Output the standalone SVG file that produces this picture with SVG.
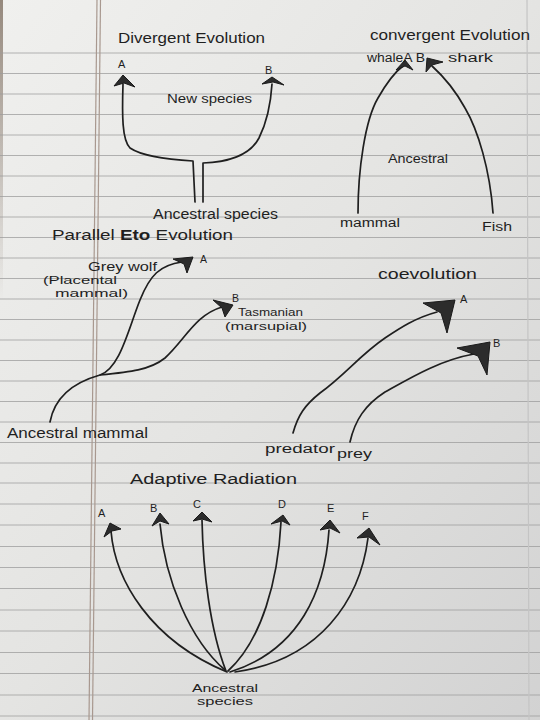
<svg xmlns="http://www.w3.org/2000/svg" width="540" height="720" viewBox="0 0 540 720">
<defs>
<linearGradient id="paper" x1="0" y1="0" x2="1" y2="1">
<stop offset="0" stop-color="#f0f0ee"/>
<stop offset="0.5" stop-color="#e4e4e2"/>
<stop offset="1" stop-color="#d2d2d2"/>
</linearGradient>
<linearGradient id="edge" x1="0" y1="0" x2="0" y2="1">
<stop offset="0" stop-color="#6e5c4c" stop-opacity=".7"/>
<stop offset="1" stop-color="#6e5c4c" stop-opacity="0"/>
</linearGradient>
<style>
.rule{stroke:#9c9c9c;stroke-width:1;opacity:.75}
.margin{stroke:#a8988f;stroke-width:1.2}
.ink{fill:none;stroke:#1f1f1f;stroke-width:1.7;stroke-linecap:round;stroke-linejoin:round}
.head{fill:#2c2c2c;stroke:#1a1a1a;stroke-width:1;stroke-linejoin:round}
text{font-family:"Liberation Sans","DejaVu Sans",sans-serif;fill:#1f1f1f}
.t{font-size:14px}
.s{font-size:12px}
.n{font-size:10.5px}
.l{font-size:11px}
</style>
</defs>
<rect width="540" height="720" fill="url(#paper)"/>
<rect x="0" y="0" width="3" height="300" fill="url(#edge)"/>
<g id="rules">
<line class="rule" x1="0" y1="53" x2="540" y2="53"/>
<line class="rule" x1="0" y1="73.5" x2="540" y2="73.5"/>
<line class="rule" x1="0" y1="94" x2="540" y2="94"/>
<line class="rule" x1="0" y1="114.5" x2="540" y2="114.5"/>
<line class="rule" x1="0" y1="135" x2="540" y2="135"/>
<line class="rule" x1="0" y1="155.5" x2="540" y2="155.5"/>
<line class="rule" x1="0" y1="176" x2="540" y2="176"/>
<line class="rule" x1="0" y1="196.5" x2="540" y2="196.5"/>
<line class="rule" x1="0" y1="217" x2="540" y2="217"/>
<line class="rule" x1="0" y1="237.5" x2="540" y2="237.5"/>
<line class="rule" x1="0" y1="258" x2="540" y2="258"/>
<line class="rule" x1="0" y1="278.5" x2="540" y2="278.5"/>
<line class="rule" x1="0" y1="299" x2="540" y2="299"/>
<line class="rule" x1="0" y1="319.5" x2="540" y2="319.5"/>
<line class="rule" x1="0" y1="340" x2="540" y2="340"/>
<line class="rule" x1="0" y1="360.5" x2="540" y2="360.5"/>
<line class="rule" x1="0" y1="381" x2="540" y2="381"/>
<line class="rule" x1="0" y1="401.5" x2="540" y2="401.5"/>
<line class="rule" x1="0" y1="422" x2="540" y2="422"/>
<line class="rule" x1="0" y1="442.5" x2="540" y2="442.5"/>
<line class="rule" x1="0" y1="463" x2="540" y2="463"/>
<line class="rule" x1="0" y1="483" x2="540" y2="483"/>
<line class="rule" x1="0" y1="504" x2="540" y2="504"/>
<line class="rule" x1="0" y1="525" x2="540" y2="525"/>
<line class="rule" x1="0" y1="546.5" x2="540" y2="546.5"/>
<line class="rule" x1="0" y1="567.5" x2="540" y2="567.5"/>
<line class="rule" x1="0" y1="588.5" x2="540" y2="588.5"/>
<line class="rule" x1="0" y1="610" x2="540" y2="610"/>
<line class="rule" x1="0" y1="631" x2="540" y2="631"/>
<line class="rule" x1="0" y1="652.5" x2="540" y2="652.5"/>
<line class="rule" x1="0" y1="673.5" x2="540" y2="673.5"/>
<line class="rule" x1="0" y1="695" x2="540" y2="695"/>
<line class="rule" x1="0" y1="716" x2="540" y2="716"/>
<line class="margin" x1="97" y1="0" x2="89" y2="720"/>
<line class="margin" x1="100.5" y1="0" x2="92.5" y2="720"/>
<line x1="527" y1="0" x2="529" y2="720" stroke="#c4c4c4" stroke-width="1.2"/>
</g>

<g id="connectors">
<!-- divergent -->
<path class="ink" d="M123,84 C122,115 122,140 130,148 C145,158 175,160 193,161 L195,202"/>
<path class="ink" d="M203,202 L203,163 C230,162 250,155 259,138 C268,120 271,100 272,84"/>
<!-- convergent -->
<path class="ink" d="M358,213 C358,170 365,120 378,98 C386,84 395,72 403,66"/>
<path class="ink" d="M493,213 C490,170 478,130 465,108 C455,90 442,75 432,66"/>
<!-- parallel -->
<path class="ink" d="M50,422 C55,395 75,382 100,375 C120,368 128,330 140,300 C150,275 160,265 182,262"/>
<path class="ink" d="M100,375 C130,372 150,370 165,358 C185,340 195,315 222,307"/>
<!-- coevolution -->
<path class="ink" d="M293,433 C298,415 305,405 320,393 C345,375 360,355 385,338 C400,328 415,318 437,312"/>
<path class="ink" d="M350,442 C355,420 365,405 385,392 C410,378 440,360 474,354"/>
<!-- adaptive radiation -->
<path class="ink" d="M111,531 C115,580 150,640 227,672"/>
<path class="ink" d="M160,524 C165,580 190,640 225,670"/>
<path class="ink" d="M202,520 C203,570 210,630 226,671"/>
<path class="ink" d="M281,522 C278,580 262,640 228,671"/>
<path class="ink" d="M329,530 C325,590 300,650 230,672"/>
<path class="ink" d="M368,538 C360,600 320,660 235,672"/>
</g>

<g id="arrowheads">
<polygon class="head" points="123,75 135,87 124,83 114,86"/>
<polygon class="head" points="272,77 284,85 273,82 262,84"/>
<polygon class="head" points="405,60 413,70 405,66 396,70"/>
<polygon class="head" points="427,58 443,62 432,65 426,72"/>
<polygon class="head" points="193,257 187,273 184,264 173,259"/>
<polygon class="head" points="233,305 225,317 222,308 213,300"/>
<polygon class="head" points="455,300 447,333 441,313 423,303"/>
<polygon class="head" points="490,342 487,375 478,356 457,348"/>
<polygon class="head" points="110,523 121,529 112,531 104,537"/>
<polygon class="head" points="160,513 169,524 160,521 152,526"/>
<polygon class="head" points="202,512 212,522 202,519 193,521"/>
<polygon class="head" points="283,515 290,525 282,521 271,524"/>
<polygon class="head" points="330,520 340,533 330,528 320,530"/>
<polygon class="head" points="369,528 380,545 369,537 357,538"/>
</g>

<g id="divergent">
<text class="t" x="118" y="43" textLength="147" lengthAdjust="spacingAndGlyphs">Divergent Evolution</text>
<text class="l" x="118" y="68">A</text>
<text class="l" x="265" y="74">B</text>
<text class="s" x="167" y="103" textLength="85" lengthAdjust="spacingAndGlyphs">New species</text>
<text class="t" x="153" y="219" textLength="125" lengthAdjust="spacingAndGlyphs">Ancestral species</text>
</g>

<g id="convergent">
<text class="t" x="370" y="40" textLength="160" lengthAdjust="spacingAndGlyphs">convergent Evolution</text>
<text class="s" x="367" y="62" textLength="58" lengthAdjust="spacingAndGlyphs">whaleA B</text>
<text class="s" x="448" y="62" textLength="45" lengthAdjust="spacingAndGlyphs">shark</text>
<text class="s" x="388" y="163" textLength="60" lengthAdjust="spacingAndGlyphs">Ancestral</text>
<text class="s" x="340" y="227" textLength="60" lengthAdjust="spacingAndGlyphs">mammal</text>
<text class="s" x="482" y="231" textLength="30" lengthAdjust="spacingAndGlyphs">Fish</text>
</g>

<g id="parallel">
<text class="t" x="52" y="240" textLength="181" lengthAdjust="spacingAndGlyphs">Parallel <tspan font-weight="bold">Eto</tspan> Evolution</text>
<text class="s" x="88" y="271" textLength="69" lengthAdjust="spacingAndGlyphs">Grey wolf</text>
<text class="n" x="43" y="284" textLength="74" lengthAdjust="spacingAndGlyphs">(Placental</text>
<text class="n" x="55" y="297" textLength="73" lengthAdjust="spacingAndGlyphs">mammal)</text>
<text class="n" x="200" y="263">A</text>
<text class="n" x="232" y="302">B</text>
<text class="n" x="238" y="316" textLength="65" lengthAdjust="spacingAndGlyphs">Tasmanian</text>
<text class="n" x="225" y="330" textLength="82" lengthAdjust="spacingAndGlyphs">(marsupial)</text>
<text class="t" x="7" y="438" textLength="141" lengthAdjust="spacingAndGlyphs">Ancestral mammal</text>
</g>

<g id="coevolution">
<text class="t" x="378" y="279" textLength="99" lengthAdjust="spacingAndGlyphs">coevolution</text>
<text class="l" x="460" y="303">A</text>
<text class="l" x="493" y="347">B</text>
<text class="s" x="265" y="453" textLength="70" lengthAdjust="spacingAndGlyphs">predator</text>
<text class="s" x="337" y="458" textLength="35" lengthAdjust="spacingAndGlyphs">prey</text>
</g>

<g id="adaptive">
<text class="t" x="130" y="484" textLength="167" lengthAdjust="spacingAndGlyphs">Adaptive Radiation</text>
<text class="l" x="98" y="517">A</text>
<text class="l" x="150" y="512">B</text>
<text class="l" x="193" y="508">C</text>
<text class="l" x="278" y="508">D</text>
<text class="l" x="327" y="512">E</text>
<text class="l" x="362" y="520">F</text>
<text class="n" x="192" y="692" textLength="66" lengthAdjust="spacingAndGlyphs">Ancestral</text>
<text class="n" x="197" y="705" textLength="56" lengthAdjust="spacingAndGlyphs">species</text>
</g>
</svg>
